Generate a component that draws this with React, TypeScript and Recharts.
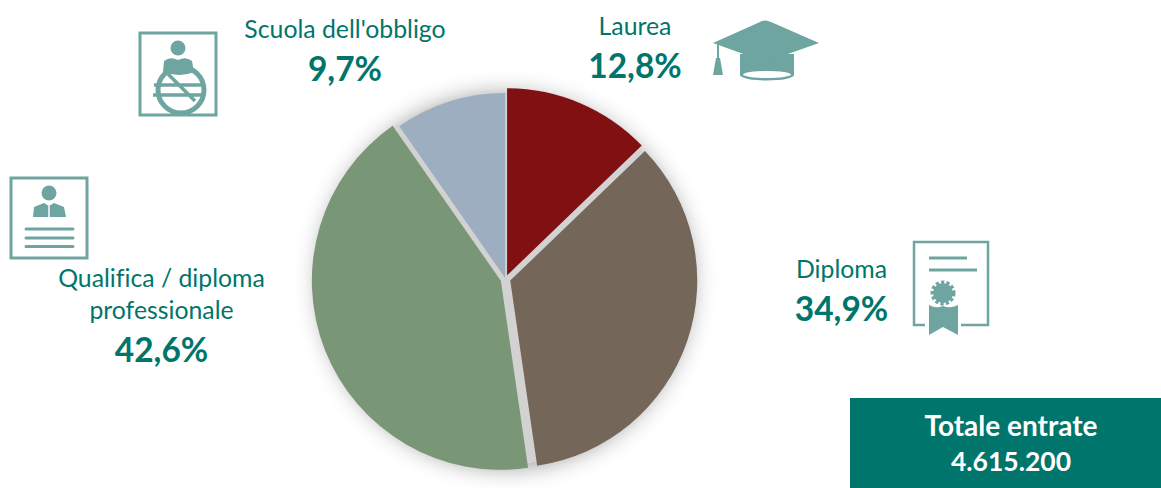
import { Pie, PieChart, Sector } from 'recharts';

const categories = ['Laurea', 'Diploma', 'Qualifica / diploma professionale', "Scuola dell'obbligo"];
const shares = [12.8, 34.9, 42.6, 9.7];
const totalLabel = 'Totale entrate';
const totalValue = '4.615.200';

const sliceColors = ['#801012', '#75665a', '#799676', '#9eaec1'];
const sliceExplode = [4, 5, 5, 1];
const sliceRadius = [187, 187, 189, 185];

// label blocks: centre x, first line baseline, percent baseline
const labelLines = [['Laurea'], ['Diploma'], ['Qualifica / diploma', 'professionale'], ["Scuola dell'obbligo"]];
const labelSpots = [
  { x: 635, y: 35, py: 78 },
  { x: 841.5, y: 278, py: 321 },
  { x: 161.5, y: 287, py: 362 },
  { x: 345, y: 38, py: 81 },
];

const TEAL = '#00756b';
const ICON = '#6fa5a0';
const FONT = 'Lato, sans-serif';
const WIDTH = 1161;
const HEIGHT = 488;
const CX = 505.5;
const CY = 279;

const sliceData = categories.map((name, i) => ({ name, value: shares[i], fill: sliceColors[i] }));
const backing = [{ name: 'sfondo', value: 100 }];

const formatShare = (v: number) => `${v.toFixed(1).replace('.', ',')}%`;

function ExplodedSlice(props: any) {
  const i = props.index ?? 0;
  const mid = ((props.startAngle + props.endAngle) / 2) * (Math.PI / 180);
  const dx = sliceExplode[i] * Math.cos(mid);
  const dy = -sliceExplode[i] * Math.sin(mid);
  return (
    <Sector
      {...props}
      cx={props.cx + dx}
      cy={props.cy + dy}
      outerRadius={sliceRadius[i]}
      fill={sliceColors[i]}
      stroke="none"
    />
  );
}

function BackingDisc(props: any) {
  return <Sector {...props} fill="#d2d2d2" stroke="none" filter="url(#pieShadow)" />;
}

function SliceLabel(props: any) {
  const i = props.index ?? 0;
  const spot = labelSpots[i];
  return (
    <g fontFamily={FONT} textAnchor="middle" fill={TEAL} style={{ fontVariantLigatures: 'none' }}>
      {labelLines[i].map((line, n) => (
        <text key={line} x={spot.x} y={spot.y + n * 32} fontSize={24.8}>
          {line}
        </text>
      ))}
      <text x={spot.x} y={spot.py} fontSize={33.5} fontWeight={700}>
        {formatShare(shares[i])}
      </text>
    </g>
  );
}

function Icons() {
  return (
    <g>
      {/* Scuola dell'obbligo */}
      <g stroke={ICON} fill="none">
        <rect x={140} y={33} width={76} height={82} strokeWidth={3} />
        <circle cx={178} cy={48} r={7.5} fill={ICON} stroke="none" />
        <path d="M164 61 Q170 56 178 60 Q186 56 192 61 L194 72 Q180 78 163 72 Z" fill={ICON} stroke="none" />
        <circle cx={181} cy={90} r={23} strokeWidth={5} />
        <path d="M154 85 H203 M153 95 H203 M167 73 L195 101" strokeWidth={3.5} />
      </g>
      {/* Laurea */}
      <g fill={ICON}>
        <path d="M740 54 V75 H794 V54 Z" />
        <ellipse cx={767} cy={75} rx={27} ry={5.5} />
        <ellipse cx={767} cy={74.5} rx={24} ry={3.5} fill="#fff" />
        <path d="M713 43 L760 22 Q765 19 771 22 L819 43 L771 60 Q765 62 760 60 Z" />
        <path d="M717 44 H719 V60 H717 Z" />
        <path d="M716 58 H720 L723 75 H713 Z" />
      </g>
      {/* Qualifica */}
      <g stroke={ICON} fill="none">
        <rect x={11} y={178} width={76} height={80} strokeWidth={3} />
        <circle cx={49} cy={193} r={7.5} fill={ICON} stroke="none" />
        <path d="M34 207 L44 203 L49 206 L54 203 L64 207 L66 217 H33 Z" fill={ICON} stroke="none" />
        <path d="M49 206 V217" stroke="#fff" strokeWidth={1.5} />
        <path d="M26 229 H73 M26 238 H73 M26 246.500 H73" strokeWidth={3} strokeLinecap="round" />
      </g>
      {/* Diploma */}
      <g stroke={ICON} fill="none">
        <rect x={914} y={242} width={74} height={83} strokeWidth={2.5} />
        <path d="M929 258 H967 M929 270 H977" strokeWidth={3} />
        <rect x={925} y={300} width={36} height={28} fill="#fff" stroke="none" />
        <circle cx={943} cy={293} r={10} fill={ICON} strokeWidth={5} strokeDasharray="3 2" />
        <path d="M929 305 Q936 309 943 306 Q950 309 958 305 V335 L943 327 L929 335 Z" fill={ICON} stroke="none" />
      </g>
    </g>
  );
}

export default function App() {
  return (
    <div style={{ position: 'fixed', left: 0, top: 0, width: WIDTH, height: HEIGHT, background: '#fff' }}>
      <PieChart width={WIDTH} height={HEIGHT} margin={{ top: 0, right: 0, bottom: 0, left: 0 }}>
        <defs>
          <filter id="pieShadow" x="-30%" y="-30%" width="160%" height="160%">
            <feDropShadow dx={0} dy={2} stdDeviation={12} floodColor="#000" floodOpacity={0.45} />
          </filter>
        </defs>
        <Pie
          data={backing}
          dataKey="value"
          cx={CX}
          cy={CY}
          outerRadius={185}
          startAngle={90}
          endAngle={-270}
          shape={BackingDisc}
          isAnimationActive={false}
        />
        <Pie
          data={sliceData}
          dataKey="value"
          nameKey="name"
          cx={CX}
          cy={CY}
          outerRadius={187}
          startAngle={90}
          endAngle={-270}
          shape={ExplodedSlice}
          label={SliceLabel}
          labelLine={false}
          isAnimationActive={false}
        />
        <Icons />
        <rect x={850} y={398} width={311} height={90} fill="#00756c" />
        <g fontFamily={FONT} fontWeight={700} fill="#fff" textAnchor="middle">
          <text x={1011} y={436} fontSize={28}>{totalLabel}</text>
          <text x={1011} y={471} fontSize={26.5}>{totalValue}</text>
        </g>
      </PieChart>
    </div>
  );
}
